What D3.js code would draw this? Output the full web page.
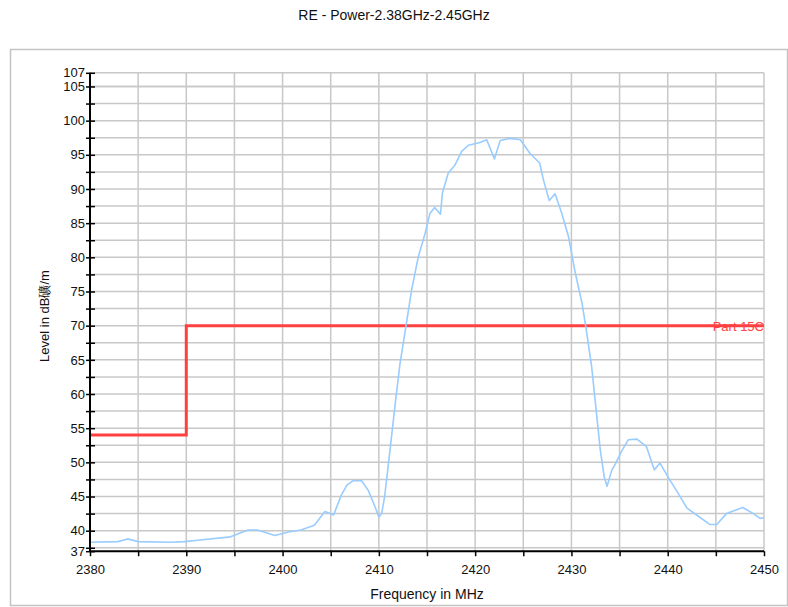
<!DOCTYPE html>
<html><head><meta charset="utf-8">
<script src="https://cdn.jsdelivr.net/npm/d3@7"></script>
<style>body{margin:0;background:#fff;}svg{display:block;font-family:Arial,"Liberation Sans",sans-serif;}</style>
</head><body>
<svg id="c" width="788" height="607"></svg>
<script>
const title = "RE - Power-2.38GHz-2.45GHz";
const xTitle = "Frequency in MHz";
const yTitle = "Level in dB礦/m";
const xTickLabels = [2380, 2390, 2400, 2410, 2420, 2430, 2440, 2450];
const yTickLabels = [37, 40, 45, 50, 55, 60, 65, 70, 75, 80, 85, 90, 95, 100, 105, 107];
const limitFreq = [2380, 2390, 2390, 2450];
const limitLevel = [54, 54, 70, 70];
const limitName = "Part 15C";
const traceFreq = [2380, 2382.9, 2383.9, 2385, 2388.4, 2389.8, 2391.2, 2394.6, 2396.4, 2397.4, 2399.2, 2400.6, 2401.9, 2403.3, 2404.4, 2405.3, 2406.1, 2406.7, 2407.3, 2408.2, 2408.9, 2409.6, 2410.0, 2410.3, 2410.6, 2411.2, 2411.7, 2412.2, 2412.8, 2413.4, 2414.1, 2414.8, 2415.3, 2415.8, 2416.4, 2416.6, 2417.2, 2417.9, 2418.6, 2419.3, 2420.5, 2421.2, 2422.0, 2422.6, 2423.6, 2424.7, 2425.7, 2426.7, 2427.1, 2427.7, 2428.3, 2429.0, 2429.7, 2430.4, 2431.1, 2431.5, 2432.1, 2432.6, 2433.0, 2433.4, 2433.7, 2434.2, 2434.5, 2435.2, 2435.9, 2436.8, 2437.8, 2438.6, 2439.2, 2440.1, 2440.9, 2442.0, 2443.0, 2444.4, 2445.1, 2446.1, 2447.8, 2448.9, 2449.6, 2450];
const traceLevel = [38.3, 38.4, 38.8, 38.4, 38.3, 38.4, 38.6, 39.1, 40.1, 40.1, 39.3, 39.8, 40.1, 40.8, 42.8, 42.3, 45.2, 46.7, 47.3, 47.3, 45.9, 43.5, 42.0, 42.6, 45.0, 52.3, 58.6, 64.5, 69.8, 75.2, 80.1, 83.5, 86.4, 87.3, 86.3, 89.4, 92.3, 93.5, 95.5, 96.4, 96.8, 97.2, 94.4, 97.1, 97.4, 97.2, 95.2, 93.8, 91.3, 88.3, 89.3, 86.4, 83.0, 77.7, 73.3, 69.8, 64.0, 57.2, 51.8, 47.9, 46.5, 48.9, 49.6, 51.6, 53.3, 53.4, 52.3, 48.9, 49.9, 47.7, 45.9, 43.3, 42.3, 40.9, 40.9, 42.5, 43.4, 42.5, 41.8, 41.9];

const svg = d3.select("#c");
const L = 90, R = 764, T = 72.8, B = 551.2;
const x = d3.scaleLinear().domain([2380, 2450]).range([L, R]);
const y = d3.scaleLinear().domain([37, 107]).range([B, T]);

svg.append("rect").attr("x", 10.5).attr("y", 49.5).attr("width", 777).attr("height", 556)
  .attr("fill", "none").attr("stroke", "#c4c4c4").attr("stroke-width", 1.5);

svg.append("text").attr("x", 394).attr("y", 20).attr("text-anchor", "middle")
  .attr("font-size", 14).attr("fill", "#111").text(title);

// grid
const xGrid = d3.range(2385, 2451, 5);
const yGrid = d3.range(37.5, 106, 2.5).concat([105, 107]);
const g = svg.append("g");
g.selectAll(".vg").data(xGrid).join("line")
  .attr("x1", d => x(d)).attr("x2", d => x(d)).attr("y1", T).attr("y2", B)
  .attr("stroke", "#c8c8c8").attr("stroke-width", 1.5);
g.selectAll(".hg").data(yGrid).join("line")
  .attr("x1", L).attr("x2", R).attr("y1", d => y(d)).attr("y2", d => y(d))
  .attr("stroke", "#c8c8c8").attr("stroke-width", 1.5);

// limit line
const line = d3.line().x(d => x(d[0])).y(d => y(d[1]));
svg.append("path").datum(limitFreq.map((f, i) => [f, limitLevel[i]]))
  .attr("d", line).attr("fill", "none").attr("stroke", "#ff4040").attr("stroke-width", 3);

// trace
svg.append("path").datum(traceFreq.map((f, i) => [f, traceLevel[i]]))
  .attr("d", line).attr("fill", "none").attr("stroke", "#99ccff").attr("stroke-width", 1.6)
  .attr("stroke-linejoin", "round");

svg.append("text").attr("x", R).attr("y", y(70) + 5).attr("text-anchor", "end")
  .attr("font-size", 13).attr("fill", "#ff4040").text(limitName);

// axes
const yAxisTicks = yTickLabels.concat(d3.range(37.5, 105, 2.5).filter(v => v % 5 !== 0));
const ya = svg.append("g").attr("transform", `translate(${L},0)`)
  .call(d3.axisLeft(y).tickValues(yAxisTicks).tickSize(4)
    .tickFormat(d => yTickLabels.includes(d) ? d : ""));
ya.selectAll(".tick line").attr("x1", -4).attr("x2", 5).attr("stroke", "#000").attr("stroke-width", 1.5);
ya.select(".domain").attr("stroke", "#000").attr("stroke-width", 2).attr("d", `M0,${T}V${B}`);
ya.selectAll("text").attr("font-size", 13).attr("fill", "#111").attr("font-family", "Arial, 'Liberation Sans', sans-serif").attr("x", -5);

const xa = svg.append("g").attr("transform", `translate(0,${B})`)
  .call(d3.axisBottom(x).tickValues(d3.range(2380, 2451, 5)).tickSize(5)
    .tickFormat(d => xTickLabels.includes(d) ? d : ""));
xa.selectAll(".tick line").attr("stroke", "#000").attr("stroke-width", 1.5);
xa.select(".domain").attr("stroke", "#000").attr("stroke-width", 2).attr("d", `M${L},0H${R}`);
xa.selectAll("text").attr("font-size", 13).attr("fill", "#111").attr("font-family", "Arial, 'Liberation Sans', sans-serif").attr("y", 14);

svg.append("text").attr("x", (L + R) / 2).attr("y", 599).attr("text-anchor", "middle")
  .attr("font-size", 14).attr("fill", "#111").text(xTitle);
svg.append("text").attr("transform", `translate(49,316) rotate(-90)`)
  .attr("text-anchor", "middle").attr("font-size", 13).attr("fill", "#111").text(yTitle);
</script>
</body></html>
